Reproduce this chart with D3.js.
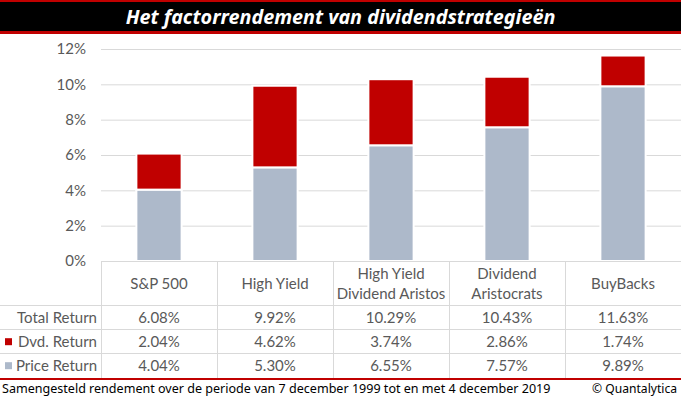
<!DOCTYPE html>
<html>
<head>
<meta charset="utf-8">
<script src="https://cdn.jsdelivr.net/npm/d3@7"></script>
<style>
  body { margin: 0; background: #fff; }
  svg { display: block; font-family: Lato, "Noto Sans", sans-serif; }
</style>
</head>
<body>
<svg id="chart" width="681" height="399"></svg>
<script>
// data
const categories = ['S&P 500', 'High Yield', 'High Yield|Dividend Aristos', 'Dividend|Aristocrats', 'BuyBacks'];
const priceReturn = [4.04, 5.30, 6.55, 7.57, 9.89];
const dvdReturn = [2.04, 4.62, 3.74, 2.86, 1.74];
const totalReturn = [6.08, 9.92, 10.29, 10.43, 11.63];
const yTicks = [0, 2, 4, 6, 8, 10, 12];
const rowLabels = ['Total Return', 'Dvd. Return', 'Price Return'];
const titleText = 'Het factorrendement van dividendstrategieën';
const footnote = 'Samengesteld rendement over de periode van 7 december 1999 tot en met 4 december 2019';
const credit = '© Quantalytica';

const W = 681, H = 399;
const plot = { left: 101, right: 681, top: 49, bottom: 261 };
const red = '#c00000', grey = '#adb9ca', txt = '#595959', line = '#d9d9d9';

const svg = d3.select('#chart');

// fit text to a target width by adjusting font-size
function fit(sel, width) {
  const w = sel.node().getComputedTextLength();
  const fs = parseFloat(sel.attr('font-size'));
  sel.attr('font-size', fs * width / w);
  return fs * width / w;
}

// font size for table and axis: "Total Return" is ~80px wide in the reference
const probe = svg.append('text').attr('font-size', 14).text(rowLabels[0]);
const fs = fit(probe, 80);
probe.remove();

// title bar
svg.append('rect').attr('x', 0).attr('y', 0).attr('width', W).attr('height', 34).attr('fill', red);
svg.append('rect').attr('x', 0).attr('y', 2).attr('width', W).attr('height', 29).attr('fill', '#000');
const title = svg.append('text')
  .attr('x', W / 2).attr('y', 24)
  .attr('text-anchor', 'middle')
  .attr('fill', '#fff')
  .attr('font-size', 20)
  .attr('font-weight', 'bold')
  .attr('font-style', 'italic')
  .attr('font-family', '"Noto Sans", sans-serif')
  .text(titleText);
fit(title, 430);

// scales
const x = d3.scaleBand().domain(categories).range([plot.left, plot.right]).padding(0);
const barW = x.bandwidth() * 0.39;
const y = d3.scaleLinear().domain([0, 12]).range([plot.bottom, plot.top]);

// gridlines
svg.append('g')
  .attr('transform', `translate(${plot.left},0)`)
  .call(d3.axisLeft(y).tickValues(yTicks).tickSize(-(plot.right - plot.left)).tickFormat(''))
  .call(g => g.select('.domain').remove())
  .call(g => g.selectAll('line').attr('stroke', line));

// y axis labels
svg.append('g')
  .attr('transform', `translate(86,0)`)
  .call(d3.axisLeft(y).tickValues(yTicks).tickSize(0).tickPadding(0).tickFormat(d => d + '%'))
  .call(g => g.select('.domain').remove())
  .call(g => g.selectAll('text').attr('fill', txt).attr('font-size', fs).attr('font-family', 'Lato, "Noto Sans", sans-serif'));

// stacked bars
const table = categories.map((c, i) => ({ cat: c, price: priceReturn[i], dvd: dvdReturn[i] }));
const stack = d3.stack().keys(['price', 'dvd'])(table);
const colors = { price: grey, dvd: red };

svg.append('g').selectAll('g')
  .data(stack)
  .join('g')
  .attr('fill', s => colors[s.key])
  .selectAll('rect')
  .data(s => s)
  .join('rect')
  .attr('x', d => x(d.data.cat) + (x.bandwidth() - barW) / 2)
  .attr('y', d => y(d[1]))
  .attr('width', barW)
  .attr('height', d => y(d[0]) - y(d[1]))
  .attr('stroke', '#fff')
  .attr('stroke-width', 2);

// data table
const rowTop = [305, 329, 353];
const rowH = 24.4;
const tableBottom = 378;
const rows = [
  { label: rowLabels[0], values: totalReturn, swatch: null },
  { label: rowLabels[1], values: dvdReturn, swatch: red },
  { label: rowLabels[2], values: priceReturn, swatch: grey }
];
const fmt = d3.format('.2f');

const tbl = svg.append('g');
// header top border (shares the 0% line)
tbl.append('line')
  .attr('x1', plot.left).attr('x2', plot.right)
  .attr('y1', plot.bottom + 0.5).attr('y2', plot.bottom + 0.5)
  .attr('stroke', line);
// row borders
tbl.selectAll('.hline')
  .data(rowTop)
  .join('line')
  .attr('x1', 0).attr('x2', W)
  .attr('y1', d => d + 0.5).attr('y2', d => d + 0.5)
  .attr('stroke', line);
// column borders
tbl.selectAll('.vline')
  .data(categories)
  .join('line')
  .attr('x1', d => Math.round(x(d)) + 0.5).attr('x2', d => Math.round(x(d)) + 0.5)
  .attr('y1', plot.bottom).attr('y2', tableBottom)
  .attr('stroke', line);

// category headers
const headCy = (plot.bottom + rowTop[0]) / 2 + 1;
tbl.selectAll('.cat')
  .data(categories)
  .join('text')
  .attr('text-anchor', 'middle')
  .attr('fill', txt)
  .attr('font-size', fs)
  .each(function (d) {
    const lines = d.split('|');
    const t = d3.select(this);
    lines.forEach((l, k) => {
      t.append('tspan')
        .attr('x', x(d) + x.bandwidth() / 2)
        .attr('y', headCy + (k - (lines.length - 1) / 2) * 20)
        .attr('dy', '0.35em')
        .text(l);
    });
  });

// row labels, swatches and values
rows.forEach((r, i) => {
  const cy = rowTop[i] + rowH / 2 + 0.5;
  tbl.append('text')
    .attr('x', 97).attr('y', cy).attr('dy', '0.35em')
    .attr('text-anchor', 'end')
    .attr('fill', txt)
    .attr('font-size', fs)
    .text(r.label);
  if (r.swatch) {
    tbl.append('rect')
      .attr('x', 5).attr('y', cy - 3.5)
      .attr('width', 7).attr('height', 7)
      .attr('fill', r.swatch);
  }
  tbl.selectAll(null)
    .data(r.values)
    .join('text')
    .attr('x', (d, j) => x(categories[j]) + x.bandwidth() / 2)
    .attr('y', cy).attr('dy', '0.35em')
    .attr('text-anchor', 'middle')
    .attr('fill', txt)
    .attr('font-size', fs)
    .text(d => fmt(d) + '%');
});

// footer
svg.append('rect').attr('x', 0).attr('y', tableBottom).attr('width', W).attr('height', 2).attr('fill', red);
const foot = svg.append('text')
  .attr('x', 2).attr('y', 393)
  .attr('fill', '#000')
  .attr('font-size', 13)
  .attr('font-family', '"Noto Sans", sans-serif')
  .text(footnote);
fit(foot, 549);
const cred = svg.append('text')
  .attr('x', 677).attr('y', 393)
  .attr('text-anchor', 'end')
  .attr('fill', '#000')
  .attr('font-size', 13)
  .attr('font-family', '"Noto Sans", sans-serif')
  .text(credit);
fit(cred, 85);
</script>
</body>
</html>
